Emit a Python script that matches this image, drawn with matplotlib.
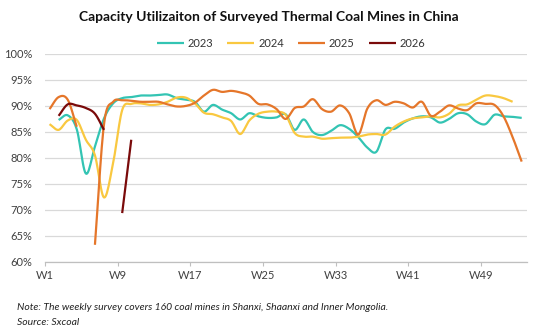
import numpy as np
import matplotlib
matplotlib.use("Agg")
import matplotlib.pyplot as plt

plt.rcParams['font.family'] = ['Lato', 'DejaVu Sans']

nan = np.nan

# weekly capacity utilization (%), first point of each year and its values
start_2023 = 2
util_2023 = [87.3, 88.2, 85.5, 77.0, 82.2, 87.6, 90.5, 91.5, 91.7, 92.0,
             92.0, 92.1, 92.2, 91.5, 91.2, 90.8, 88.9, 90.2, 89.3, 88.6,
             87.4, 88.6, 88.0, 87.7, 87.8, 88.4, 85.4, 87.4, 85.0, 84.4,
             85.2, 86.3, 85.6, 84.0, 82.0, 81.2, 85.5, 85.6, 86.8, 87.6,
             88.0, 87.8, 86.8, 87.5, 88.6, 88.4, 87.0, 86.5, 88.3, 88.0,
             87.9, 87.7]

start_2024 = 1
util_2024 = [86.5, 85.4, 87.2, 87.3, 83.5, 80.5, 72.4, 79.0, 89.2, 90.4,
             90.5, 90.2, 90.3, 90.8, 91.6, 91.6, 90.5, 88.7, 88.4, 87.8,
             87.1, 84.6, 87.2, 88.5, 88.9, 88.9, 88.3, 84.8, 84.1, 84.1,
             83.7, 83.8, 83.9, 83.9, 84.1, 84.5, 84.6, 84.5, 86.0, 87.0,
             87.6, 87.8, 88.0, 87.8, 88.5, 90.1, 90.3, 91.2, 92.0, 91.9,
             91.5, 90.8]

start_2025 = 1
util_2025 = [89.4, 91.7, 91.2, 86.0, nan, 63.3, 86.5, 90.8, 91.1, 91.0,
             90.8, 90.8, 90.8, 90.3, 89.9, 90.0, 90.6, 92.0, 93.1, 92.7,
             92.9, 92.6, 92.0, 90.4, 90.3, 89.4, 87.5, 89.6, 89.9, 91.3,
             89.4, 88.9, 90.1, 88.6, 84.5, 89.5, 91.1, 90.2, 90.8, 90.5,
             89.7, 90.8, 88.1, 88.9, 90.1, 89.5, 89.2, 90.5, 90.4, 90.2,
             88.0, 84.0, 79.3]

start_2026 = 2
util_2026 = [88.1, 90.3, 90.1, 89.6, 88.5, 85.4, nan, 69.4, 83.5]

years = ['2023', '2024', '2025', '2026']
colors = ['#33c4b3', '#f9c840', '#e5762a', '#7a0a0a']
tick_weeks = [1, 9, 17, 25, 33, 41, 49]
tick_labels = ['W' + str(w) for w in tick_weeks]


def smooth(x, y, n=12):
    # catmull-rom through the points, like a smoothed excel line
    x = np.asarray(x, float)
    y = np.asarray(y, float)
    if len(x) < 3:
        return x, y
    px = np.concatenate([[2 * x[0] - x[1]], x, [2 * x[-1] - x[-2]]])
    py = np.concatenate([[2 * y[0] - y[1]], y, [2 * y[-1] - y[-2]]])
    t = np.linspace(0, 1, n, endpoint=False)
    xs, ys = [], []
    for i in range(1, len(px) - 2):
        for p, out in ((px, xs), (py, ys)):
            p0, p1, p2, p3 = p[i - 1], p[i], p[i + 1], p[i + 2]
            out.extend(0.5 * (2 * p1 + (-p0 + p2) * t
                              + (2 * p0 - 5 * p1 + 4 * p2 - p3) * t ** 2
                              + (-p0 + 3 * p1 - 3 * p2 + p3) * t ** 3))
    xs.append(x[-1])
    ys.append(y[-1])
    return np.array(xs), np.array(ys)


fig = plt.figure(figsize=(5.37, 3.35), dpi=100)
ax = fig.add_axes([0.0838, 0.218, 0.897, 0.621])

series = [(start_2023, util_2023), (start_2024, util_2024),
          (start_2025, util_2025), (start_2026, util_2026)]
for (start, vals), year, color in zip(series, years, colors):
    vals = np.array(vals, float)
    weeks = start + 0.5 + np.arange(len(vals))
    ok = ~np.isnan(vals)
    # split into runs where data exists
    idx = np.where(ok)[0]
    runs = np.split(idx, np.where(np.diff(idx) > 1)[0] + 1)
    for j, r in enumerate(runs):
        sx, sy = smooth(weeks[r], vals[r])
        ax.plot(sx, sy, color=color, lw=1.6, solid_capstyle='butt',
                label=year if j == 0 else None)

ax.set_xlim(1, 54.05)
ax.set_ylim(60, 100)
ax.set_yticks(range(60, 101, 5))
ax.set_yticklabels([f'{v}%' for v in range(60, 101, 5)])
ax.set_xticks(tick_weeks)
ax.set_xticklabels(tick_labels)
ax.grid(axis='y', color='#d9d9d9', lw=0.9)
ax.set_axisbelow(True)
for s in ['top', 'right', 'left']:
    ax.spines[s].set_visible(False)
ax.spines['bottom'].set_color('#bfbfbf')
ax.spines['bottom'].set_linewidth(0.9)
ax.tick_params(axis='y', length=0, labelsize=8, labelcolor='#404040', pad=9)
ax.tick_params(axis='x', length=3, color='#bfbfbf', labelsize=8,
               labelcolor='#404040', pad=3)

fig.text(0.5, 0.948, 'Capacity Utilizaiton of Surveyed Thermal Coal Mines in China',
         ha='center', va='center', fontsize=10, fontweight='bold', color='#111111')
fig.legend(loc='center', bbox_to_anchor=(0.542, 0.871), ncol=4, frameon=False,
           fontsize=8, handlelength=2.4, columnspacing=1.3, handletextpad=0.35,
           labelcolor='#333333')

fig.text(0.032, 0.083, 'Note: The weekly survey covers 160 coal mines in Shanxi, Shaanxi and Inner Mongolia.',
         fontsize=7.5, style='italic', color='#222222', va='center')
fig.text(0.032, 0.036, 'Source: Sxcoal', fontsize=7.5, style='italic',
         color='#222222', va='center')

fig.savefig('out.png', dpi=100)
